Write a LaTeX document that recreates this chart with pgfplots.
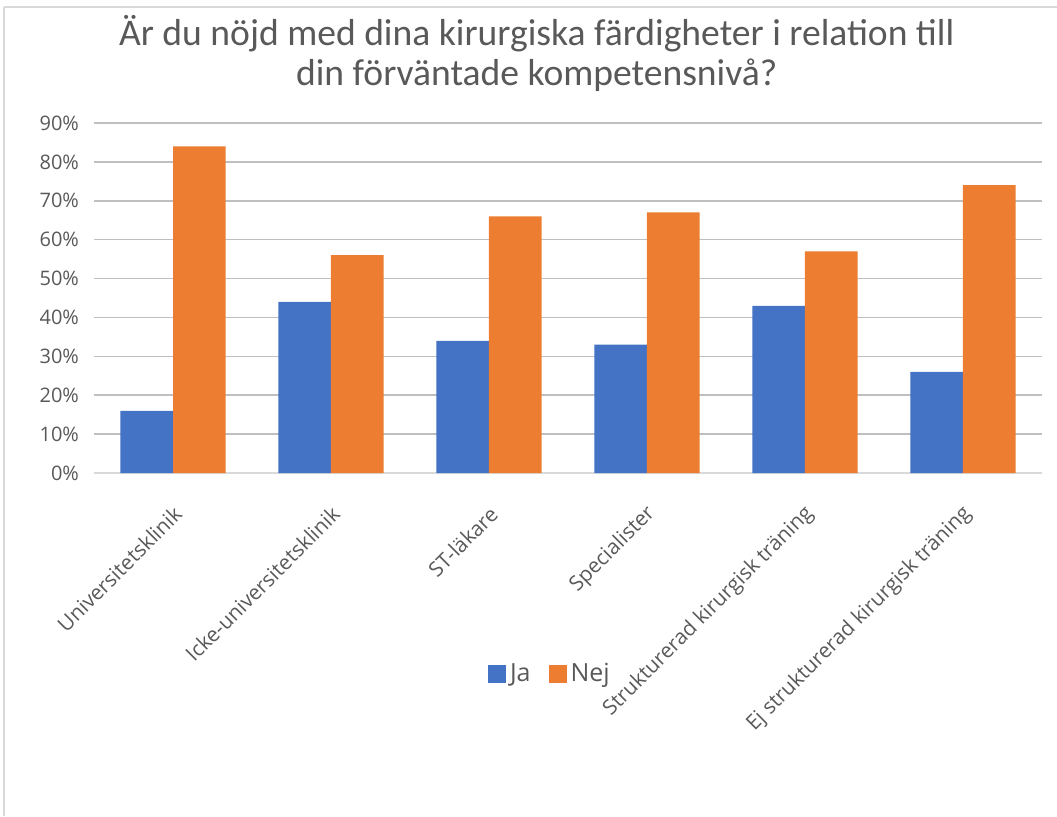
\documentclass[border=0pt]{standalone}
\usepackage{pgfplots}
\pgfplotsset{compat=1.18}
\usepackage{fontspec}
\setmainfont{Open Sans}
\newfontfamily\titlefont{Carlito}
\definecolor{cblue}{HTML}{4472C4}
\definecolor{corange}{HTML}{ED7D31}
\definecolor{txt}{HTML}{595959}
\definecolor{grid}{HTML}{D9D9D9}
\begin{document}
\begin{tikzpicture}
\useasboundingbox (0pt,0pt) rectangle (528.5pt,-408pt);
\draw[grid, line width=0.6pt] (2pt,-3.5pt) -- (528.5pt,-3.5pt);
\draw[grid, line width=0.6pt] (2pt,-3.5pt) -- (2pt,-408pt);
\begin{axis}[
  at={(47pt,-236.5pt)}, anchor=south west,
  scale only axis, width=474pt, height=175pt,
  ybar=0pt, bar width=26.3pt,
  xmin=-0.5, xmax=5.5, ymin=0, ymax=90,
  ytick={0,10,...,90},
  xtick={0,1,2,3,4,5},
  xticklabels={Universitetsklinik,Icke-universitetsklinik,ST-läkare,Specialister,Strukturerad kirurgisk träning,Ej strukturerad kirurgisk träning},
  yticklabel={\pgfmathprintnumber{\tick}\%},
  /pgf/number format/assume math mode=true,
  major tick length=0pt,
  axis x line*=bottom, axis y line*=left,
  y axis line style={draw=none},
  x axis line style={grid, line width=0.8pt, -},
  xmajorgrids=false, ymajorgrids=true, grid style={grid, line width=0.8pt},
  tick label style={font=\fontsize{10}{12}\selectfont, text=txt},
  yticklabel style={anchor=east, xshift=-4pt},
  xticklabel style={rotate=45, anchor=east, xshift=-8pt, yshift=-15pt, font=\fontsize{10.4}{12}\selectfont},
  title={Är du nöjd med dina kirurgiska färdigheter i relation till\\din förväntade kompetensnivå?},
  title style={at={(0.467,1.165)}, anchor=center, align=center, text=txt, font=\titlefont\fontsize{18.8}{20}\selectfont},
  legend style={at={(0.482,-0.574)}, anchor=center, draw=none, fill=none, legend columns=2, font=\fontsize{12.5}{14}\selectfont, text=txt, /tikz/every even column/.append style={column sep=7pt}},
  legend image code/.code={\fill[#1] (0pt,-4.7pt) rectangle (9pt,4.7pt);},
]
\addplot[fill=cblue, draw=none] coordinates {(0,16) (1,44) (2,34) (3,33) (4,43) (5,26)};
\addplot[fill=corange, draw=none] coordinates {(0,84) (1,56) (2,66) (3,67) (4,57) (5,74)};
\legend{Ja,Nej}
\end{axis}
\end{tikzpicture}
\end{document}
